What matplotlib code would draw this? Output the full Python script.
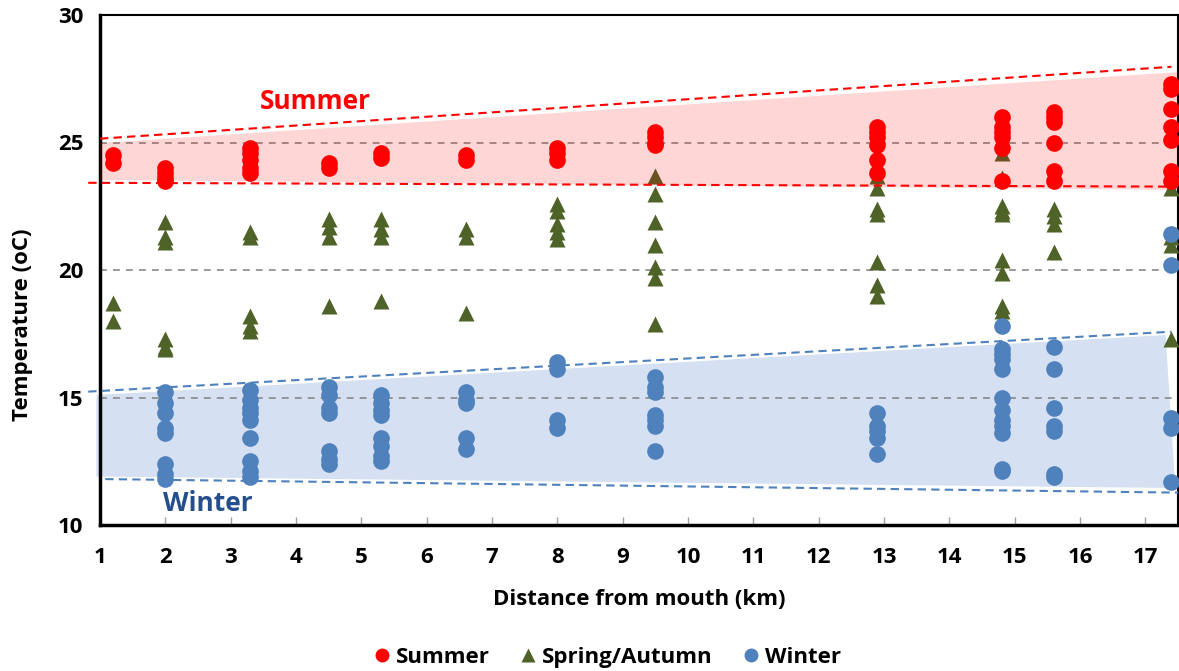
import numpy as np
import matplotlib.pyplot as plt
from matplotlib.lines import Line2D

plt.rcParams['font.family'] = ['Open Sans', 'DejaVu Sans']
plt.rcParams['font.weight'] = 'bold'

# station distance from mouth (km)
stations = [1.2, 2.0, 3.3, 4.5, 5.3, 6.6, 8.0, 9.5, 12.9, 14.8, 15.6, 17.4]

# temperatures (oC) per station
summer = [
    [24.5, 24.2],
    [24.0, 23.8, 23.6, 23.5],
    [24.8, 24.6, 24.3, 24.0, 23.8],
    [24.2, 24.0],
    [24.6, 24.4],
    [24.5, 24.3],
    [24.8, 24.6, 24.3],
    [25.4, 25.2, 25.0, 24.9],
    [25.6, 25.4, 25.2, 24.9, 24.3, 23.8],
    [26.0, 25.6, 25.4, 25.2, 24.8, 23.5],
    [26.2, 26.0, 25.8, 25.0, 23.9, 23.5],
    [27.3, 27.1, 26.3, 25.6, 25.1, 23.9, 23.5],
]
spring = [
    [18.7, 18.0],
    [21.9, 21.3, 21.1, 17.3, 17.0, 16.9],
    [21.5, 21.3, 18.2, 17.8, 17.6],
    [22.0, 21.7, 21.3, 18.6],
    [22.0, 21.6, 21.3, 18.8],
    [21.6, 21.3, 18.3],
    [22.6, 22.3, 21.8, 21.5, 21.2],
    [23.7, 23.0, 21.9, 21.0, 20.1, 19.7, 17.9],
    [23.7, 23.2, 22.4, 22.2, 20.3, 19.4, 19.0],
    [24.6, 23.6, 22.5, 22.3, 22.2, 20.4, 19.9, 18.6, 18.4],
    [23.9, 22.4, 22.1, 21.8, 20.7],
    [23.2, 21.3, 21.0, 17.3],
]
winter = [
    [],
    [15.2, 14.8, 14.4, 13.8, 13.6, 12.4, 12.0, 11.8],
    [15.3, 14.9, 14.6, 14.4, 14.1, 13.4, 12.5, 12.1, 11.9],
    [15.4, 15.1, 14.6, 14.4, 12.9, 12.6, 12.4],
    [15.1, 14.8, 14.5, 14.3, 13.4, 13.1, 12.7, 12.5],
    [15.2, 14.9, 14.8, 13.4, 13.0],
    [16.4, 16.1, 14.1, 13.8],
    [15.8, 15.4, 15.2, 14.3, 14.1, 13.9, 12.9],
    [14.4, 13.9, 13.7, 13.4, 12.8],
    [17.8, 16.9, 16.7, 16.5, 16.1, 15.0, 14.5, 14.1, 13.9, 13.6, 12.2, 12.1],
    [17.0, 16.1, 14.6, 13.9, 13.7, 12.0, 11.9],
    [21.4, 20.2, 14.2, 13.8, 11.7],
]

# envelope lines and shaded bands (x, T)
summer_hi = ([1.0, 17.4], [25.15, 27.97])
summer_lo = ([0.82, 17.4], [23.42, 23.27])
winter_hi = ([0.82, 17.4], [15.23, 17.58])
winter_lo = ([1.08, 17.5], [11.80, 11.27])
summer_band_x = [1.0, 17.5, 17.5, 1.0]
summer_band_t = [24.98, 27.76, 23.14, 23.53]
winter_band_x = [0.945, 17.31, 17.46, 0.945]
winter_band_t = [15.1, 17.45, 11.45, 11.9]


def flat(groups):
    xs, ys = [], []
    for d, vals in zip(stations, groups):
        xs += [d] * len(vals)
        ys += vals
    return xs, ys


red = '#FF0000'
green = '#4F6228'
blue = '#4F81BD'

fig = plt.figure(figsize=(11.79, 6.71), dpi=100)
ax = fig.add_axes([100 / 1179, 1 - 525 / 671, 1078 / 1179, 510 / 671])

ax.fill(winter_band_x, winter_band_t, color='#4472C4', alpha=0.22, lw=0, zorder=1, clip_on=False)

for t in [15, 20, 25]:
    ax.axhline(t, color='#808080', lw=1.1, dashes=(4.5, 4), zorder=2)

xs, ys = flat(spring)
ax.plot(xs, ys, '^', color=green, ms=12, mec='none', zorder=3)

ax.fill(summer_band_x, summer_band_t, color=red, alpha=0.16, lw=0, zorder=4)

xs, ys = flat(summer)
ax.plot(xs, ys, 'o', color=red, ms=12, mec='none', zorder=5)
xs, ys = flat(winter)
ax.plot(xs, ys, 'o', color=blue, ms=12, mec='none', zorder=5)

ax.plot(*summer_hi, color=red, lw=1.5, dashes=(4, 2.5), zorder=6, clip_on=False)
ax.plot(*summer_lo, color=red, lw=1.5, dashes=(4, 2.5), zorder=6, clip_on=False)
ax.plot(*winter_hi, color=blue, lw=1.5, dashes=(4, 2.5), zorder=6, clip_on=False)
ax.plot(*winter_lo, color=blue, lw=1.5, dashes=(4, 2.5), zorder=6, clip_on=False)

ax.text(4.29, 26.6, 'Summer', color=red, fontsize=19, fontweight='bold', ha='center', va='center')
ax.text(2.65, 10.86, 'Winter', color='#254E8C', fontsize=19, fontweight='bold', ha='center', va='center')

ax.set_xlim(1, 17.5)
ax.set_ylim(10, 30)
ax.set_xticks(range(1, 18))
ax.set_yticks([10, 15, 20, 25, 30])
ax.tick_params(axis='x', direction='in', length=6, color='#A0A0A0', width=1, pad=16, labelsize=16)
ax.tick_params(axis='y', length=0, pad=12, labelsize=16)
for lab in ax.get_xticklabels() + ax.get_yticklabels():
    lab.set_fontweight('bold')

for s in ['left', 'bottom']:
    ax.spines[s].set_linewidth(2.5)
for s in ['top', 'right']:
    ax.spines[s].set_linewidth(1.5)

ax.set_xlabel('Distance from mouth (km)', fontsize=16, fontweight='bold', labelpad=15)
ax.set_ylabel('Temperature (oC)', fontsize=16, fontweight='bold')
ax.yaxis.set_label_coords(-0.062, 0.392)

handles = [
    Line2D([], [], marker='o', ls='none', color=red, ms=10, mec='none'),
    Line2D([], [], marker='^', ls='none', color=green, ms=10, mec='none'),
    Line2D([], [], marker='o', ls='none', color=blue, ms=10, mec='none'),
]
fig.legend(handles, ['Summer', 'Spring/Autumn', 'Winter'], loc='center',
           bbox_to_anchor=(0.514, 0.02), ncol=3, frameon=False,
           handlelength=1.0, handletextpad=0.15, columnspacing=1.2,
           prop={'weight': 'bold', 'size': 16})

fig.savefig('out.png', dpi=100)
